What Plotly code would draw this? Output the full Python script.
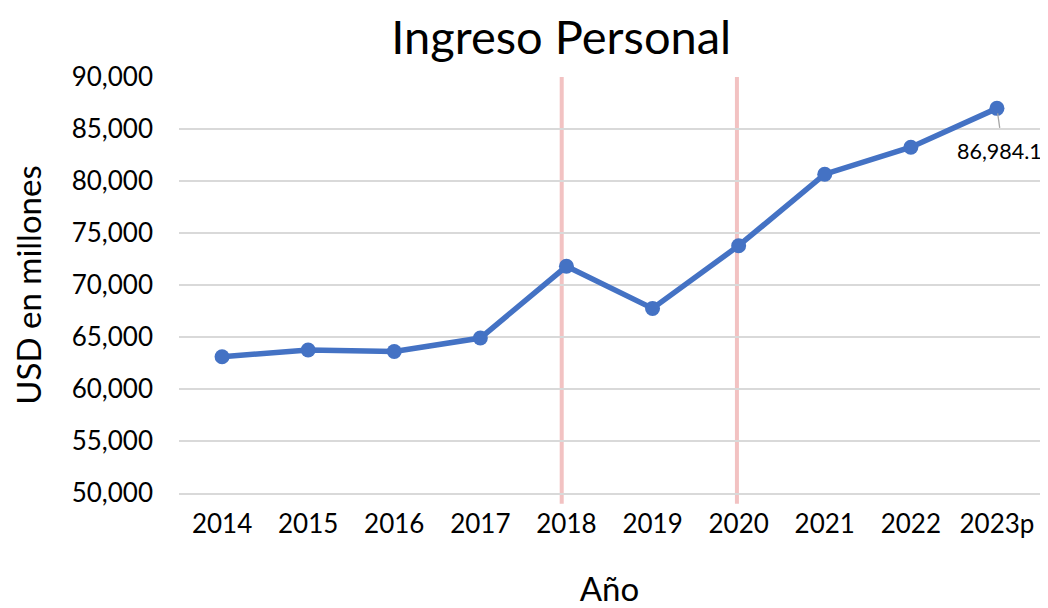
import plotly.graph_objects as go

years = ["2014", "2015", "2016", "2017", "2018", "2019", "2020", "2021", "2022", "2023p"]
income = [63100, 63750, 63600, 64900, 71800, 67750, 73780, 80650, 83250, 86984.1]
marked_years = ["2018", "2020"]
label_year = "2023p"
label_value = 86984.1

FONT = "Lato"
line_offsets = {"2018": -0.055, "2020": -0.02}

fig = go.Figure()
fig.add_trace(go.Scatter(
    x=years, y=income, mode="lines+markers",
    line=dict(color="#4472C4", width=5.5),
    marker=dict(color="#4472C4", size=15),
    hoverinfo="x+y", showlegend=False,
))

for yr in marked_years:
    idx = years.index(yr)
    fig.add_shape(type="line", xref="x", yref="paper", x0=idx, x1=idx,
                  x0shift=line_offsets[yr], x1shift=line_offsets[yr],
                  y0=-0.026, y1=1, line=dict(color="#F2C2C2", width=4), layer="below")

# leader line + label
fig.add_annotation(x=label_year, y=label_value, text="", showarrow=True, arrowhead=0,
                   arrowwidth=1.3, arrowcolor="#A6A6A6", ax=3, ay=21, standoff=5)
fig.add_annotation(x=label_year, y=label_value, text=f"{label_value:,.1f}", showarrow=False,
                   xshift=3, yshift=-43, font=dict(family=FONT, size=21.5, color="#000000"))

fig.update_layout(
    width=1040, height=600,
    margin=dict(l=171, r=8, t=69, b=115),
    paper_bgcolor="white", plot_bgcolor="white",
    title=dict(text="Ingreso Personal", x=0.532, xanchor="center", y=0.951, yanchor="middle",
               font=dict(family=FONT, size=47, color="#000000")),
    font=dict(family=FONT, color="#000000"),
)
fig.update_xaxes(
    type="category", categoryorder="array", categoryarray=years,
    range=[-0.5, len(years) - 0.5], autorange=False, automargin=False,
    showgrid=False, showline=True, linecolor="#D9D9D9", linewidth=2,
    tickfont=dict(family=FONT, size=26), ticks="", ticklabelstandoff=7,
    title=dict(text="Año", font=dict(family=FONT, size=33), standoff=48),
)
fig.update_yaxes(
    range=[50000, 90000], dtick=5000, tickformat=",", showgrid=True, gridcolor="#D9D9D9",
    gridwidth=2, zeroline=False, tickfont=dict(family=FONT, size=26), ticks="",
    ticklabelstandoff=25, automargin=False,
    title=dict(text="USD en millones", font=dict(family=FONT, size=33), standoff=21),
)

fig.write_html("out.html")
